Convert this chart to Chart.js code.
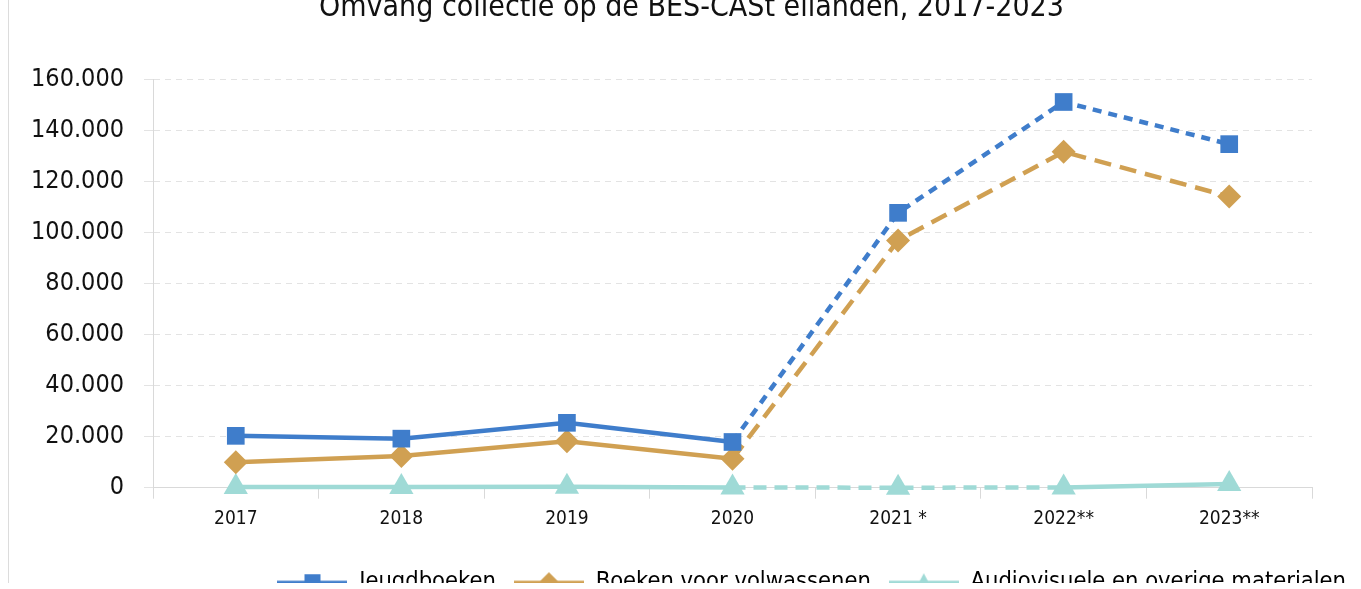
<!DOCTYPE html>
<html>
<head>
<meta charset="utf-8">
<script src="https://cdn.jsdelivr.net/npm/chart.js@4"></script>
<style>
  html, body { margin: 0; padding: 0; background: #fff; overflow: hidden; }
  #frame { position: absolute; left: 8px; top: -30px; width: 1353px; height: 613px; overflow: hidden; border-left: 1px solid #dcdcdc; }
  #wrap { position: absolute; left: 0; top: 0; width: 1353px; height: 650px; }
</style>
</head>
<body>
<div id="frame"><div id="wrap"><canvas id="grafico"></canvas></div></div>
<script>
const jaren = ["2017", "2018", "2019", "2020", "2021 *", "2022**", "2023**"];
const jeugdboeken = [20300, 19200, 25400, 17900, 107600, 151000, 134500];
const boekenVolwassenen = [10000, 12400, 18200, 11300, 96800, 131500, 114000];
const audiovisueel = [300, 300, 400, 100, 0, 100, 1400];
const titel = "Omvang collectie op de BES-CASt eilanden, 2017-2023";

const fontNaam = "'DejaVu Sans Condensed', 'DejaVu Sans', sans-serif";

// gestippelde segmenten (2020 -> 2023 voor boeken, 2020 -> 2022 voor AV)
const stippel = (van, tot, patroon) => (ctx) =>
  ctx.p0DataIndex >= van && ctx.p0DataIndex < tot ? patroon : undefined;

// legenda-symbool: lijn met marker
function legendaIcoon(kleur, vorm) {
  const c = document.createElement("canvas");
  c.width = 70; c.height = 22;
  const g = c.getContext("2d");
  g.strokeStyle = kleur; g.fillStyle = kleur; g.lineWidth = 3;
  g.beginPath(); g.moveTo(0, 11); g.lineTo(70, 11); g.stroke();
  g.beginPath();
  if (vorm === "rect") g.rect(27, 3, 16, 16);
  if (vorm === "rectRot") { g.moveTo(35, 1); g.lineTo(45, 11); g.lineTo(35, 21); g.lineTo(25, 11); g.closePath(); }
  if (vorm === "triangle") { g.moveTo(35, 2); g.lineTo(44, 19); g.lineTo(26, 19); g.closePath(); }
  g.fill();
  return c;
}

// titel en legenda iets naar rechts schuiven (zoals in het origineel)
const verschuiving = {
  id: "verschuiving",
  beforeDraw(chart) {
    const lg = chart.legend;
    if (lg && !lg._verschoven) {
      lg.left += 52;
      lg.right += 52;
      lg._verschoven = true;
    }
    const tb = chart.titleBlock;
    if (tb && !tb._verschoven) {
      tb.left += 31;
      tb.right += 31;
      tb._verschoven = true;
    }
  },
};

const blauw = "#3f7dcb";
const goud = "#d0a052";
const turkoois = "#9fdad6";

const ctx = document.getElementById("grafico").getContext("2d");
new Chart(ctx, {
  type: "line",
  data: {
    labels: jaren,
    datasets: [
      {
        label: "Jeugdboeken",
        data: jeugdboeken,
        borderColor: blauw,
        backgroundColor: blauw,
        borderWidth: 4.5,
        pointStyle: "rect",
        pointRadius: 12.5,
        pointBorderWidth: 0,
        clip: false,
        segment: { borderDash: stippel(3, 6, [9, 7]) },
        icoon: legendaIcoon(blauw, "rect"),
      },
      {
        label: "Boeken voor volwassenen",
        data: boekenVolwassenen,
        borderColor: goud,
        backgroundColor: goud,
        borderWidth: 4.5,
        pointStyle: "rectRot",
        pointRadius: 12,
        pointBorderWidth: 0,
        clip: false,
        segment: { borderDash: stippel(3, 6, [17, 9]) },
        icoon: legendaIcoon(goud, "rectRot"),
      },
      {
        label: "Audiovisuele en overige materialen",
        data: audiovisueel,
        borderColor: turkoois,
        backgroundColor: turkoois,
        borderWidth: 4.5,
        pointStyle: "triangle",
        pointRadius: 14,
        pointBorderWidth: 0,
        clip: false,
        segment: { borderDash: stippel(3, 5, [13, 8]) },
        icoon: legendaIcoon(turkoois, "triangle"),
      },
    ],
  },
  options: {
    responsive: true,
    maintainAspectRatio: false,
    animation: false,
    layout: { padding: { left: 0, right: 50, top: 0, bottom: 16 } },
    plugins: {
      title: {
        display: true,
        text: titel,
        color: "#111",
        font: { family: fontNaam, size: 30, weight: "normal" },
        padding: { top: 20, bottom: 53 },
      },
      legend: {
        display: true,
        position: "bottom",
        align: "end",
        labels: {
          color: "#111",
          font: { family: fontNaam, size: 23.5 },
          usePointStyle: true,
          pointStyleWidth: 70,
          padding: 18,
          generateLabels: (chart) =>
            chart.data.datasets.map((ds, i) => ({
              text: ds.label,
              pointStyle: ds.icoon,
              fillStyle: ds.borderColor,
              strokeStyle: ds.borderColor,
              lineWidth: 0,
              datasetIndex: i,
              hidden: false,
            })),
        },
      },
      tooltip: { enabled: false },
    },
    scales: {
      x: {
        offset: true,
        afterFit: (scale) => { scale.height += 13; },
        grid: { offset: true, drawOnChartArea: false, drawTicks: true, tickLength: 11, color: "#d9d9d9" },
        border: { color: "#d9d9d9" },
        ticks: { color: "#111", font: { family: fontNaam, size: 19 }, padding: 9 },
      },
      y: {
        min: 0,
        max: 160000,
        afterFit: (scale) => { scale.width = 144; },
        grid: { color: "#e3e3e3", tickLength: 9, lineWidth: 1 },
        border: { color: "#d9d9d9", dash: [6, 5] },
        ticks: {
          stepSize: 20000,
          color: "#111",
          padding: 20,
          font: { family: fontNaam, size: 25 },
          callback: (v) => v.toLocaleString("nl-NL"),
        },
      },
    },
  },
  plugins: [verschuiving],
});
</script>
</body>
</html>
